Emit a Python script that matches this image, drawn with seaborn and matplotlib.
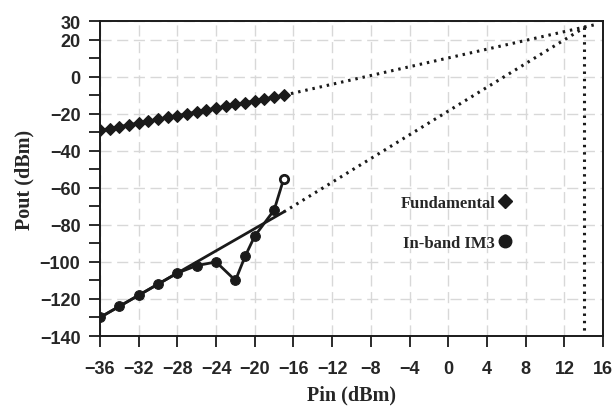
import pandas as pd
import matplotlib.pyplot as plt
import seaborn as sns
from matplotlib.lines import Line2D
from matplotlib.ticker import MultipleLocator

fund_pin = list(range(-36, -16))
fund_pout = [-29, -28, -27, -26, -25, -24, -23, -22, -21, -20,
             -19, -18, -17, -16, -15, -14, -13, -12, -11, -10]

im3_pin = [-36, -34, -32, -30, -28, -26, -24, -22, -21, -20, -18, -17]
im3_pout = [-130, -124, -118, -112, -106, -102, -100, -110, -97, -86, -72, -55]

# straight fit to the IM3 data
fit_pin = [-36, -17]
fit_pout = [-130, -73]

# dotted extrapolations to the intercept point
fund_ext_pin = [-17, 15.5]
fund_ext_pout = [-10, 28.5]
im3_ext_pin = [-17, 14.2]
im3_ext_pout = [-73, 27]
ip3_pin = [14, 14]
ip3_pout = [27, -140]

x_ticks = list(range(-36, 17, 4))
y_ticks = [30, 20, 0, -20, -40, -60, -80, -100, -120, -140]

sns.set_style('white')
plt.rcParams['font.family'] = ['Liberation Sans', 'DejaVu Sans']

fig = plt.figure(figsize=(6.13, 4.1), dpi=100)
ax = fig.add_axes([0.163, 0.178, 0.821, 0.768])

ink = '#1a1a1a'

df_fund = pd.DataFrame({'Pin': fund_pin, 'Pout': fund_pout})
df_im3 = pd.DataFrame({'Pin': im3_pin, 'Pout': im3_pout})
df_fit = pd.DataFrame({'Pin': fit_pin, 'Pout': fit_pout})

dots = (0, (0.8, 1.6))
sns.lineplot(x=fund_ext_pin, y=fund_ext_pout, color=ink, lw=2.2, linestyle=dots, ax=ax)
sns.lineplot(x=im3_ext_pin, y=im3_ext_pout, color=ink, lw=2.2, linestyle=dots, ax=ax)
sns.lineplot(x=ip3_pin, y=ip3_pout, color=ink, lw=2.2, linestyle=dots, ax=ax,
             estimator=None, sort=False)

sns.lineplot(data=df_fit, x='Pin', y='Pout', color=ink, lw=2, ax=ax)
sns.lineplot(data=df_fund, x='Pin', y='Pout', color=ink, lw=2, marker='D',
             markersize=6, markeredgecolor=ink, ax=ax)
sns.lineplot(data=df_im3.iloc[:-1], x='Pin', y='Pout', color=ink, lw=2, marker='o',
             markersize=7, markeredgecolor=ink, ax=ax)
sns.lineplot(data=df_im3.iloc[-2:], x='Pin', y='Pout', color=ink, lw=2, ax=ax)
ax.plot(im3_pin[-1], im3_pout[-1], 'o', ms=6, mfc='white', mec=ink, mew=2)

ax.set_xlim(-36, 16)
ax.set_ylim(-140, 30)
ax.set_xticks(x_ticks)
ax.set_yticks(y_ticks)
ax.yaxis.set_minor_locator(MultipleLocator(10))
ax.grid(True, which='major', color='#d8d8d8', linestyle=(0, (8, 4)), lw=1)

ax.tick_params(axis='both', which='major', direction='out', length=8, width=1.3,
               color=ink, labelsize=13, pad=6)
ax.tick_params(axis='x', which='major', pad=9)
ax.tick_params(axis='y', which='minor', direction='out', length=8, width=1.3,
               color=ink, left=True)
ax.tick_params(axis='x', bottom=True)
ax.tick_params(axis='y', left=True)
for lab in ax.get_xticklabels() + ax.get_yticklabels():
    lab.set_fontweight('bold')

for side in ['left', 'bottom', 'top', 'right']:
    ax.spines[side].set_color(ink)
    ax.spines[side].set_linewidth(1.4)

ax.set_xlabel('Pin (dBm)', family='Liberation Serif', fontweight='bold',
              fontsize=14.5, labelpad=6)
ax.set_ylabel('Pout (dBm)', family='Liberation Serif', fontweight='bold',
              fontsize=14.5, labelpad=4)

handles = [Line2D([], [], ls='none', marker='D', color=ink, ms=7),
           Line2D([], [], ls='none', marker='o', color=ink, ms=9)]
ax.legend(handles, ['Fundamental', 'In-band IM3'], markerfirst=False, frameon=False,
          loc='upper right', bbox_to_anchor=(0.845, 0.497), handlelength=0.6,
          handletextpad=0.3, labelspacing=1.45,
          prop={'family': 'Liberation Serif', 'weight': 'bold', 'size': 12})

fig.savefig('out.png', dpi=100)
